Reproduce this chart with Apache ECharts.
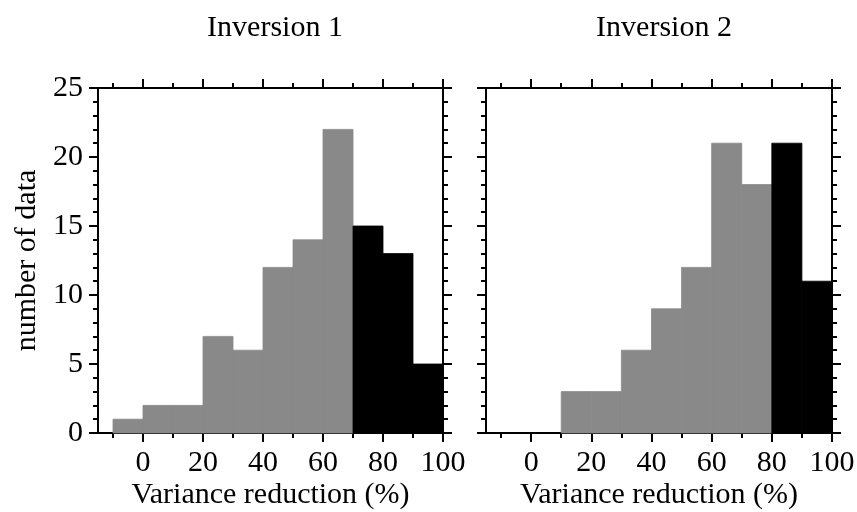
<!DOCTYPE html>
<html>
<head>
<meta charset="utf-8">
<script src="https://cdn.jsdelivr.net/npm/echarts@6/dist/echarts.min.js"></script>
<style>
  html, body { margin: 0; padding: 0; background: #fff; }
  #main { width: 857px; height: 512px; }
</style>
</head>
<body>
<div id="main"></div>
<script>
// histogram bins (left edges, width 10)
var binStarts = [-10, 0, 10, 20, 30, 40, 50, 60, 70, 80, 90];
var binWidth = 10;
var inv1Counts = [1, 2, 2, 7, 6, 12, 14, 22, 15, 13, 5];
var inv2Counts = [0, 0, 3, 3, 6, 9, 12, 21, 18, 21, 11];
// bins from this value on are drawn black
var inv1DarkFrom = 70;
var inv2DarkFrom = 80;

var xMajorTicks = [0, 20, 40, 60, 80, 100];
var xMinorTicks = [-10, 10, 30, 50, 70, 90];
var panelTitles = ["Inversion 1", "Inversion 2"];

void (function() {
  var chart = echarts.init(document.getElementById("main"));
  var FONT = "Liberation Serif";
  var lineStyle = { color: "#000", width: 2 };

  function binData(counts, darkFrom) {
    return binStarts.map(function(s, i) {
      return [s, s + binWidth, counts[i], s >= darkFrom ? 1 : 0];
    });
  }

  function renderBar(params, api) {
    if (!api.value(2)) return null;
    var p0 = api.coord([api.value(0), 0]);
    var p1 = api.coord([api.value(1), api.value(2)]);
    var c = api.value(3) ? "#000" : "#898989";
    return {
      type: "rect",
      shape: { x: p0[0], y: p1[1], width: p1[0] - p0[0], height: p0[1] - p1[1] },
      style: { fill: c, stroke: c, lineWidth: 0.8 }
    };
  }

  function xAxes(grid) {
    var base = { type: "value", gridIndex: grid, min: -15, max: 100, splitLine: { show: false } };
    return [
      Object.assign({}, base, {
        position: "bottom",
        axisLine: { show: true, onZero: false, lineStyle: lineStyle },
        axisTick: { show: true, inside: false, length: 9, lineStyle: lineStyle, customValues: xMajorTicks },
        axisLabel: { show: true, customValues: xMajorTicks, fontFamily: FONT, fontSize: 30, color: "#000", margin: 15 },
        name: "Variance reduction (%)",
        nameLocation: "middle",
        nameGap: 47,
        nameMoveOverlap: false,
        nameTextStyle: { fontFamily: FONT, fontSize: 30, color: "#000" }
      }),
      Object.assign({}, base, {
        position: "bottom",
        axisLine: { show: false, onZero: false },
        axisTick: { show: true, length: 5, lineStyle: lineStyle, customValues: xMinorTicks },
        axisLabel: { show: false }
      }),
      Object.assign({}, base, {
        position: "top",
        axisLine: { show: true, onZero: false, lineStyle: lineStyle },
        axisTick: { show: true, length: 9, lineStyle: lineStyle, customValues: xMajorTicks },
        axisLabel: { show: false }
      }),
      Object.assign({}, base, {
        position: "top",
        axisLine: { show: false, onZero: false },
        axisTick: { show: true, length: 5, lineStyle: lineStyle, customValues: xMinorTicks },
        axisLabel: { show: false }
      })
    ];
  }

  function yAxes(grid, withLabels) {
    var base = {
      type: "value", gridIndex: grid, min: 0, max: 25, interval: 5,
      splitLine: { show: false },
      axisLine: { show: true, onZero: false, lineStyle: lineStyle },
      axisTick: { show: true, length: 9, lineStyle: lineStyle },
      minorTick: { show: true, splitNumber: 5, length: 5, lineStyle: lineStyle }
    };
    var left = Object.assign({}, base, {
      position: "left",
      axisLabel: { show: withLabels, fontFamily: FONT, fontSize: 30, color: "#000", margin: 15 }
    });
    if (withLabels) {
      left.name = "number of data";
      left.nameLocation = "middle";
      left.nameGap = 56;
      left.nameMoveOverlap = false;
      left.nameTextStyle = { fontFamily: FONT, fontSize: 30, color: "#000" };
    }
    var right = Object.assign({}, base, { position: "right", axisLabel: { show: false } });
    return [left, right];
  }

  var option = {
    backgroundColor: "#fff",
    animation: false,
    title: [
      { text: panelTitles[0], left: 270, top: 8, textAlign: "center",
        textStyle: { fontFamily: FONT, fontSize: 30, fontWeight: "normal", color: "#000" } },
      { text: panelTitles[1], left: 659, top: 8, textAlign: "center",
        textStyle: { fontFamily: FONT, fontSize: 30, fontWeight: "normal", color: "#000" } }
    ],
    grid: [
      { left: 98, top: 88, width: 345, height: 345, containLabel: false, outerBoundsMode: "none" },
      { left: 486, top: 88, width: 346, height: 345, containLabel: false, outerBoundsMode: "none" }
    ],
    xAxis: xAxes(0).concat(xAxes(1)),
    yAxis: yAxes(0, true).concat(yAxes(1, false)),
    series: [
      {
        type: "custom",
        xAxisIndex: 0,
        yAxisIndex: 0,
        renderItem: renderBar,
        encode: { x: [0, 1], y: 2 },
        data: binData(inv1Counts, inv1DarkFrom),
        z: 1
      },
      {
        type: "custom",
        xAxisIndex: 4,
        yAxisIndex: 2,
        renderItem: renderBar,
        encode: { x: [0, 1], y: 2 },
        data: binData(inv2Counts, inv2DarkFrom),
        z: 1
      }
    ]
  };

  chart.setOption(option);
})();
</script>
</body>
</html>
